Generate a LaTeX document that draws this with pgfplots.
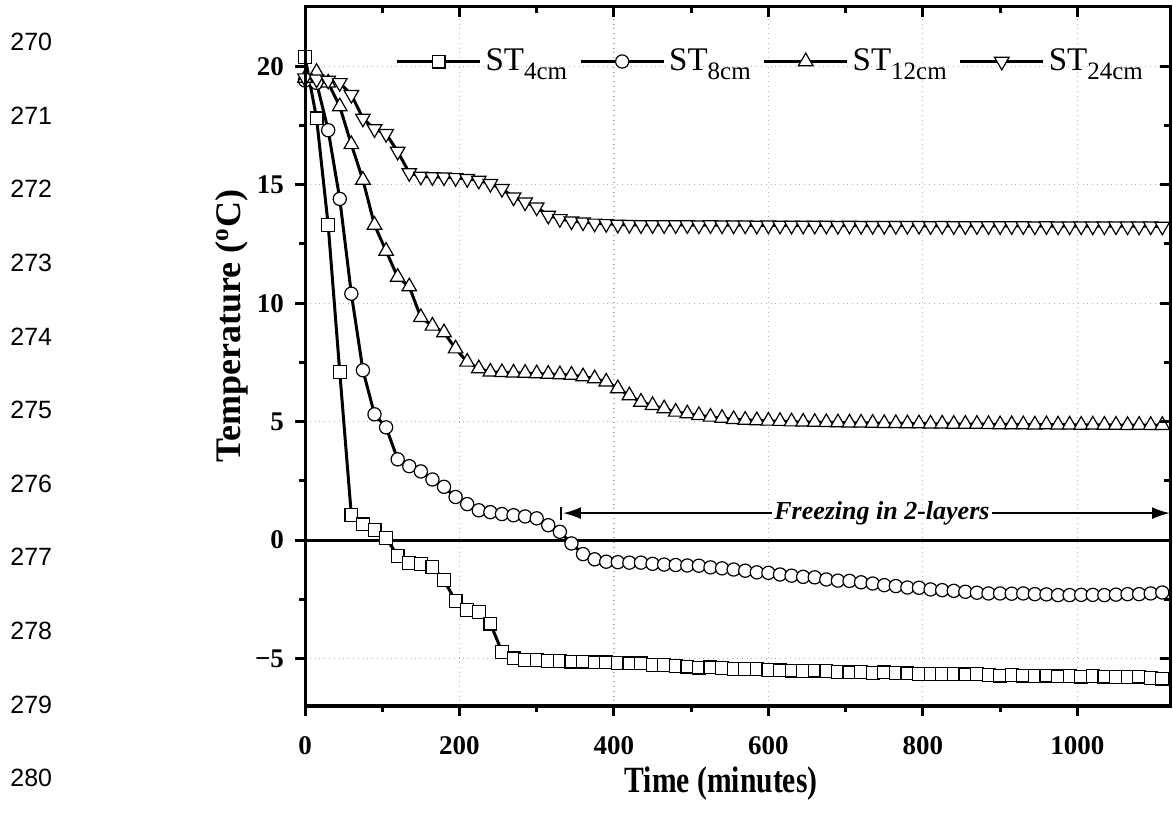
\documentclass[border=0pt]{standalone}
\usepackage{fontspec}
\setmainfont{Liberation Serif}
\newfontfamily\sansnum{Liberation Sans}
\newfontfamily\condserif[FakeStretch=0.8]{Liberation Serif}
\usepackage{pgfplots}
\pgfplotsset{compat=1.18}
\usepackage{pgfplotstable}
\usetikzlibrary{arrows.meta}

\pgfplotstableread{
t v
0 20.4
15 17.8
30 13.3
45 7.1
60 1.05
75 0.66
90 0.42
105 0.1
120 -0.67
135 -0.96
150 -1.0
165 -1.13
180 -1.69
195 -2.58
210 -2.95
225 -3.03
240 -3.52
255 -4.71
270 -4.99
285 -5.06
300 -5.06
315 -5.09
330 -5.1
345 -5.13
360 -5.13
375 -5.16
390 -5.16
405 -5.19
420 -5.2
435 -5.2
450 -5.26
465 -5.27
480 -5.3
495 -5.34
510 -5.38
525 -5.37
540 -5.39
555 -5.43
570 -5.44
585 -5.45
600 -5.47
615 -5.5
630 -5.51
645 -5.52
660 -5.51
675 -5.53
690 -5.57
705 -5.58
720 -5.57
735 -5.6
750 -5.58
765 -5.6
780 -5.62
795 -5.64
810 -5.66
825 -5.65
840 -5.64
855 -5.67
870 -5.66
885 -5.69
900 -5.72
915 -5.7
930 -5.72
945 -5.74
960 -5.72
975 -5.75
990 -5.73
1005 -5.76
1020 -5.74
1035 -5.76
1050 -5.77
1065 -5.78
1080 -5.76
1095 -5.82
1110 -5.84
}\stfour

\pgfplotstableread{
t v
0 19.4
15 19.3
30 17.3
45 14.4
60 10.4
75 7.17
90 5.31
105 4.76
120 3.41
135 3.12
150 2.9
165 2.56
180 2.25
195 1.82
210 1.52
225 1.26
240 1.18
255 1.1
270 1.05
285 1.0
300 0.92
315 0.63
330 0.35
345 -0.14
360 -0.59
375 -0.81
390 -0.91
405 -0.93
420 -0.95
435 -0.95
450 -1.0
465 -1.03
480 -1.05
495 -1.07
510 -1.08
525 -1.15
540 -1.19
555 -1.24
570 -1.29
585 -1.36
600 -1.38
615 -1.45
630 -1.5
645 -1.55
660 -1.57
675 -1.66
690 -1.71
705 -1.72
720 -1.78
735 -1.83
750 -1.9
765 -1.94
780 -2.0
795 -2.01
810 -2.08
825 -2.11
840 -2.14
855 -2.18
870 -2.22
885 -2.25
900 -2.25
915 -2.26
930 -2.25
945 -2.28
960 -2.29
975 -2.32
990 -2.32
1005 -2.31
1020 -2.31
1035 -2.32
1050 -2.3
1065 -2.28
1080 -2.28
1095 -2.25
1110 -2.21
}\steight

\pgfplotstableread{
t v
0 19.5
15 19.75
30 19.3
45 18.3
60 16.7
75 15.2
90 13.3
105 12.2
120 11.1
135 10.7
150 9.4
165 9.04
180 8.76
195 8.08
210 7.52
225 7.24
240 7.1
255 7.08
270 7.06
285 7.05
300 7.03
315 7.01
330 6.99
345 6.97
360 6.9
375 6.82
390 6.68
405 6.4
420 6.1
435 5.83
450 5.69
465 5.55
480 5.41
495 5.34
510 5.27
525 5.2
540 5.15
555 5.1
570 5.07
585 5.05
600 5.03
615 5.02
630 5.0
645 4.99
660 4.98
675 4.97
690 4.96
705 4.95
720 4.95
735 4.94
750 4.93
765 4.93
780 4.92
795 4.92
810 4.91
825 4.91
840 4.9
855 4.9
870 4.9
885 4.89
900 4.88
915 4.88
930 4.88
945 4.87
960 4.88
975 4.87
990 4.87
1005 4.86
1020 4.87
1035 4.86
1050 4.86
1065 4.85
1080 4.86
1095 4.85
1110 4.85
}\sttwelve

\pgfplotstableread{
t v
0 19.5
15 19.45
30 19.4
45 19.3
60 18.8
75 17.8
90 17.35
105 17.15
120 16.4
135 15.5
150 15.35
165 15.33
180 15.32
195 15.29
210 15.25
225 15.18
240 15.04
255 14.83
270 14.47
285 14.26
300 14.05
315 13.7
330 13.56
345 13.46
360 13.42
375 13.37
390 13.35
405 13.32
420 13.31
435 13.3
450 13.3
465 13.3
480 13.3
495 13.3
510 13.29
525 13.3
540 13.29
555 13.29
570 13.29
585 13.28
600 13.29
615 13.28
630 13.28
645 13.28
660 13.28
675 13.28
690 13.27
705 13.28
720 13.27
735 13.27
750 13.27
765 13.27
780 13.27
795 13.27
810 13.26
825 13.27
840 13.26
855 13.26
870 13.26
885 13.26
900 13.26
915 13.26
930 13.26
945 13.25
960 13.26
975 13.25
990 13.25
1005 13.25
1020 13.25
1035 13.25
1050 13.25
1065 13.25
1080 13.25
1095 13.25
1110 13.24
}\sttwentyfour

\newcommand{\leg}[1]{ST\raisebox{-0.27em}{\fontsize{12.5}{13}\selectfont #1}}

\begin{document}
\begin{tikzpicture}
\useasboundingbox (0,0) rectangle (586.5pt,407pt);
\foreach \n [count=\i from 0] in {270,271,272,273,274,275,276,277,278,279,280}
  \node[anchor=west, inner sep=0pt, font=\sansnum\fontsize{12.5}{14}\selectfont] at ({5pt},{386pt-\i*36.8pt}) {\n};

\begin{axis}[
  at={(152.5pt,54pt)}, anchor=south west,
  scale only axis, width=432.5pt, height=349.5pt,
  xmin=0, xmax=1120, ymin=-7, ymax=22.5,
  axis line style={line width=1.5pt},
  xtick={0,200,400,600,800,1000}, xticklabels={0,200,400,600,800,1000},
  ytick={-5,0,5,10,15,20}, yticklabels={−5,0,5,10,15,20},
  minor x tick num=1, minor y tick num=1,
  xtick pos=bottom, ytick pos=left, tick align=outside,
  major tick length=5pt, minor tick length=3pt,
  tick style={line width=1.5pt, black},
  grid=major, major grid style={dotted, black!30, line width=0.6pt},
  tick label style={font=\bfseries\fontsize{13.5}{15}\selectfont},
  xticklabel style={yshift=-6.5pt},
  yticklabel style={xshift=-2pt},
  xlabel={Time (minutes)}, ylabel={Temperature (\textsuperscript{o}C)},
  label style={font=\bfseries\fontsize{18}{20}\selectfont},
  xlabel style={at={(axis description cs:0.481,-0.1116)}, anchor=center, font=\condserif\bfseries\fontsize{18.5}{20}\selectfont},
  ylabel style={at={(axis description cs:-0.0844,0.5436)}, anchor=center},
  legend style={at={(axis description cs:0.539,0.922)}, anchor=center, draw=none, fill=none,
    font=\fontsize{16.5}{18}\selectfont, inner sep=0pt,
    /tikz/every even column/.append style={column sep=4pt}},
  legend columns=4,
  legend image code/.code={\draw[mark repeat=2, mark phase=2] plot coordinates {(0pt,0pt) (20.75pt,0pt) (41.5pt,0pt)};},
  clip marker paths=false,
]
\draw[line width=1.5pt] (axis cs:0,0) -- (axis cs:1120,0);
\addplot[black, line width=1.5pt, mark=square*, mark size=3.2pt, mark options={fill=white, line width=0.6pt, solid}] table[x=t,y=v]{\stfour};
\addlegendentry{\leg{4cm}}
\addplot[black, line width=1.5pt, mark=*, mark size=3.3pt, mark options={fill=white, line width=0.6pt, solid}] table[x=t,y=v]{\steight};
\addlegendentry{\leg{8cm}}
\addplot[black, line width=1.5pt, mark=triangle*, mark size=4.2pt, mark options={fill=white, line width=0.6pt, solid}] table[x=t,y=v]{\sttwelve};
\addlegendentry{\leg{12cm}}
\addplot[black, line width=1.5pt, mark=triangle*, mark size=4.2pt, mark options={fill=white, line width=0.6pt, solid, rotate=180}] table[x=t,y=v]{\sttwentyfour};
\addlegendentry{\leg{24cm}}
\draw[line width=1pt] (axis cs:332,0.85) -- (axis cs:332,1.4);
\draw[line width=1pt, -{Latex[length=9pt,width=6pt]}] (axis cs:605,1.14) -- (axis cs:334,1.14);
\draw[line width=1pt, -{Latex[length=9pt,width=6pt]}] (axis cs:890,1.14) -- (axis cs:1120,1.14);
\node[font=\bfseries\itshape\fontsize{13}{15}\selectfont] at (axis cs:747,1.14) {Freezing in 2-layers};
\end{axis}

\begin{axis}[
  at={(152.5pt,54pt)}, anchor=south west,
  scale only axis, width=432.5pt, height=349.5pt,
  xmin=0, xmax=1120, ymin=-7, ymax=22.5,
  axis line style={line width=1.5pt},
  xtick={0,200,400,600,800,1000}, ytick={-5,0,5,10,15,20},
  xticklabels={}, yticklabels={},
  minor x tick num=1, minor y tick num=1,
  xtick pos=top, ytick pos=right, tick align=inside,
  major tick length=5pt, minor tick length=3pt,
  tick style={line width=1.5pt, black},
]
\end{axis}
\end{tikzpicture}
\end{document}
